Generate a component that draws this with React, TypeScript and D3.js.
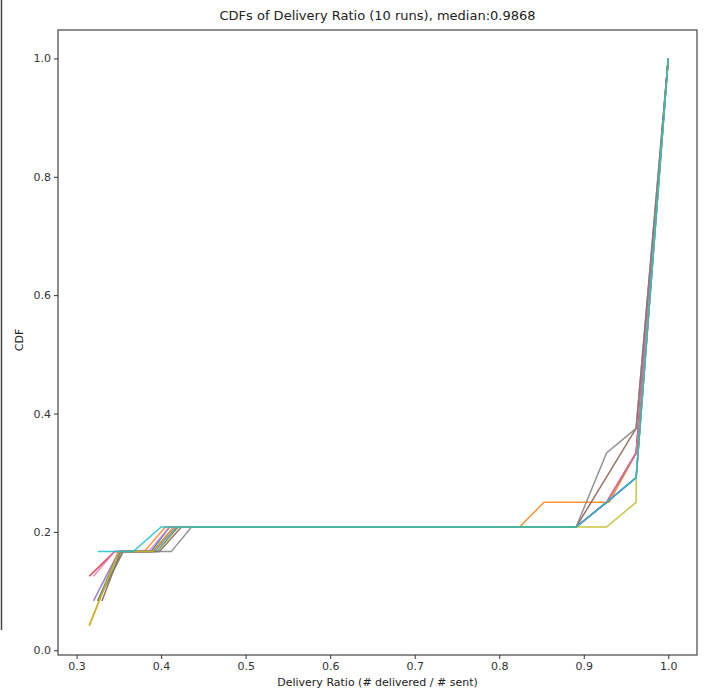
import React, { useRef, useEffect } from "react";
import { select, scaleLinear, axisBottom, axisLeft, line, format } from "d3";

// CDF points per run: [delivery ratio, count out of 24]
const total = 24;
const run0 = [[0.325, 2], [0.35, 4], [0.388, 4], [0.41, 5], [0.891, 5], [0.927, 6], [0.962, 7], [1.0, 24]];
const run1 = [[0.315, 1], [0.35, 4], [0.38, 4], [0.405, 5], [0.824, 5], [0.853, 6], [0.93, 6], [0.962, 8], [1.0, 24]];
const run2 = [[0.325, 2], [0.355, 4], [0.395, 4], [0.42, 5], [0.891, 5], [0.927, 6], [0.962, 8], [1.0, 24]];
const run3 = [[0.315, 3], [0.345, 4], [0.39, 4], [0.415, 5], [0.891, 5], [0.927, 6], [0.962, 8], [1.0, 24]];
const run4 = [[0.32, 2], [0.35, 4], [0.392, 4], [0.418, 5], [0.891, 5], [0.927, 6], [0.962, 7], [1.0, 24]];
const run5 = [[0.33, 2], [0.352, 4], [0.398, 4], [0.424, 5], [0.891, 5], [0.962, 9], [1.0, 24]];
const run6 = [[0.32, 3], [0.345, 4], [0.385, 4], [0.41, 5], [0.891, 5], [0.927, 6], [0.962, 8], [1.0, 24]];
const run7 = [[0.325, 2], [0.355, 4], [0.412, 4], [0.436, 5], [0.891, 5], [0.927, 8], [0.962, 9], [1.0, 24]];
const run8 = [[0.315, 1], [0.35, 4], [0.39, 4], [0.415, 5], [0.913, 5], [0.927, 5], [0.962, 6], [0.962, 7], [1.0, 24]];
const run9 = [[0.325, 4], [0.367, 4], [0.4, 5], [0.891, 5], [0.927, 6], [0.962, 7], [1.0, 24]];
const runs = [run0, run1, run2, run3, run4, run5, run6, run7, run8, run9];
const colors = ["#1f77b4", "#ff7f0e", "#2ca02c", "#d62728", "#9467bd", "#8c564b", "#e377c2", "#7f7f7f", "#bcbd22", "#17becf"];

const xTicks = [0.3, 0.4, 0.5, 0.6, 0.7, 0.8, 0.9, 1.0];
const yTicks = [0.0, 0.2, 0.4, 0.6, 0.8, 1.0];
const title = "CDFs of Delivery Ratio (10 runs), median:0.9868";

const App = () => {
    const svgRef = useRef();
    const width = 704;
    const height = 692;
    const margin = { top: 30, right: 7, bottom: 37, left: 58 };

    useEffect(() => {
        const svg = select(svgRef.current);
        const xScale = scaleLinear()
            .domain([0.278, 1.034])
            .range([margin.left, width - margin.right]);
        const yScale = scaleLinear()
            .domain([-0.008, 1.048])
            .range([height - margin.bottom, margin.top]);

        const xAxis = axisBottom(xScale).tickValues(xTicks).tickFormat(format(".1f")).tickSize(4).tickSizeOuter(0);
        const yAxis = axisLeft(yScale).tickValues(yTicks).tickFormat(format(".1f")).tickSize(4).tickSizeOuter(0);

        svg.select(".x-axis")
            .attr("transform", "translate(0," + (height - margin.bottom) + ")")
            .call(xAxis);
        svg.select(".y-axis")
            .attr("transform", "translate(" + margin.left + ",0)")
            .call(yAxis);
        svg.selectAll(".domain").remove();
        svg.selectAll(".tick line").attr("stroke", "#333");
        svg.selectAll(".tick text")
            .attr("fill", "#333")
            .attr("font-size", 11)
            .attr("font-family", "DejaVu Sans, sans-serif");

        const myLine = line()
            .x(function (d) { return xScale(d[0]); })
            .y(function (d) { return yScale(d[1] / total); });

        svg.select(".lines")
            .selectAll("path")
            .data(runs)
            .join("path")
            .attr("d", myLine)
            .attr("fill", "none")
            .attr("stroke", (d, i) => colors[i])
            .attr("stroke-opacity", 0.85)
            .attr("stroke-width", 1.5);
    }, []);

    return (
        <div style={{ position: "absolute", left: 0, top: 0 }}>
            <svg ref={svgRef} width={width} height={height} style={{ display: "block", background: "#fff" }}>
                <line x1={1.5} x2={1.5} y1={0} y2={630} stroke="#444" strokeWidth={1.5} />
                <g className="lines" />
                <rect x={margin.left} y={margin.top} width={width - margin.left - margin.right}
                    height={height - margin.top - margin.bottom} fill="none" stroke="#444" strokeWidth={1.2} />
                <g className="x-axis" />
                <g className="y-axis" />
                <text x={(margin.left + width - margin.right) / 2} y={20} textAnchor="middle"
                    fontSize={13} fontFamily="DejaVu Sans, sans-serif" fill="#222">{title}</text>
                <text x={(margin.left + width - margin.right) / 2} y={686} textAnchor="middle"
                    fontSize={11} fontFamily="DejaVu Sans, sans-serif" fill="#222">Delivery Ratio (# delivered / # sent)</text>
                <text transform="translate(23,340) rotate(-90)" textAnchor="middle"
                    fontSize={11} fontFamily="DejaVu Sans, sans-serif" fill="#222">CDF</text>
            </svg>
        </div>
    );
};

export default App;
